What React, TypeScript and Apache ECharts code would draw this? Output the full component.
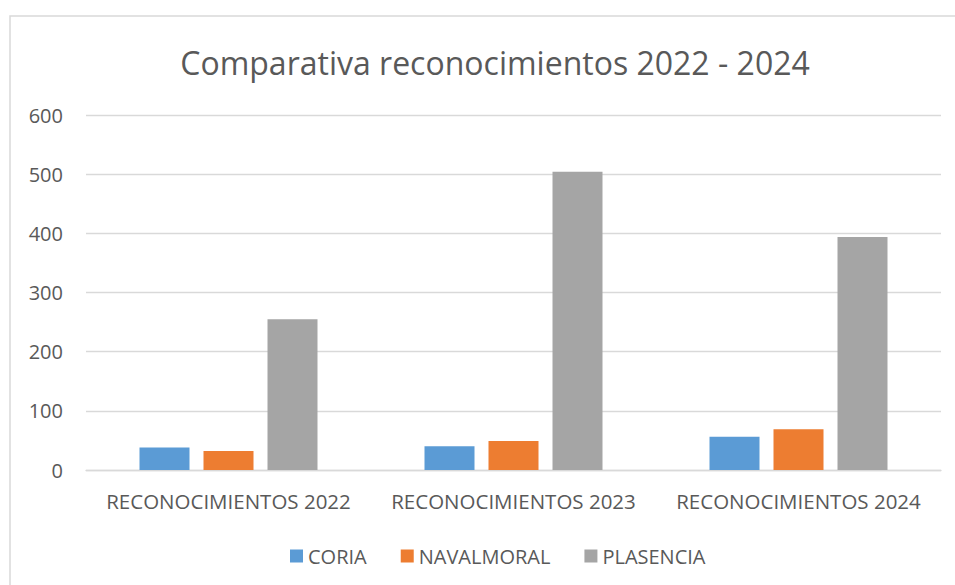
import React, { useEffect, useRef } from "react";
import * as echarts from "echarts";

const categories = ["RECONOCIMIENTOS 2022", "RECONOCIMIENTOS 2023", "RECONOCIMIENTOS 2024"];
const seriesNames = ["CORIA", "NAVALMORAL", "PLASENCIA"];
const coria = [38, 40, 56];
const navalmoral = [32, 49, 69];
const plasencia = [255, 504, 394];
const colors = ["#5B9BD5", "#ED7D31", "#A5A5A5"];
const titleText = "Comparativa reconocimientos 2022 - 2024";

export default function App() {
  const ref = useRef<HTMLDivElement>(null);
  useEffect(() => {
    if (!ref.current) return;
    const chart = echarts.init(ref.current, undefined, { renderer: "svg" });
    const font = "'Open Sans', 'Noto Sans', sans-serif";
    const values = [coria, navalmoral, plasencia];
    chart.setOption({
      animation: false,
      backgroundColor: "#ffffff",
      title: {
        text: titleText,
        left: 490,
        top: 41,
        textAlign: "center",
        textStyle: { fontFamily: font, fontSize: 32, fontWeight: "normal", color: "#595959" },
      },
      legend: {
        left: 285,
        top: 541,
        itemWidth: 13,
        itemHeight: 13,
        itemGap: 34,
        icon: "rect",
        textStyle: { fontFamily: font, fontSize: 20, color: "#595959" },
        data: seriesNames,
      },
      grid: { left: 86, right: 14, top: 115, bottom: 115, containLabel: false },
      xAxis: {
        type: "category",
        data: categories,
        axisLine: { show: true, lineStyle: { color: "#D9D9D9", width: 1.3 } },
        axisTick: { show: false },
        axisLabel: { fontFamily: font, fontSize: 20.5, color: "#595959", margin: 20, interval: 0, hideOverlap: false },
      },
      yAxis: {
        type: "value",
        min: 0,
        max: 600,
        interval: 100,
        axisLine: { show: false },
        axisTick: { show: false },
        splitLine: { lineStyle: { color: "#D9D9D9", width: 1.3 } },
        axisLabel: { fontFamily: font, fontSize: 20, color: "#595959", margin: 23 },
      },
      graphic: [
        {
          type: "rect",
          shape: { x: 10, y: 16, width: 1000, height: 1000 },
          style: { fill: "none", stroke: "#D9D9D9", lineWidth: 1.5 },
          silent: true,
        },
      ],
      series: seriesNames.map((name, i) => ({
        name,
        type: "bar",
        data: values[i],
        barWidth: 50,
        barGap: "28%",
        itemStyle: { color: colors[i] },
      })),
    });
    return () => chart.dispose();
  }, []);
  return (
    <div
      ref={ref}
      style={{ position: "fixed", left: 0, top: 0, width: 955, height: 585 }}
    />
  );
}
